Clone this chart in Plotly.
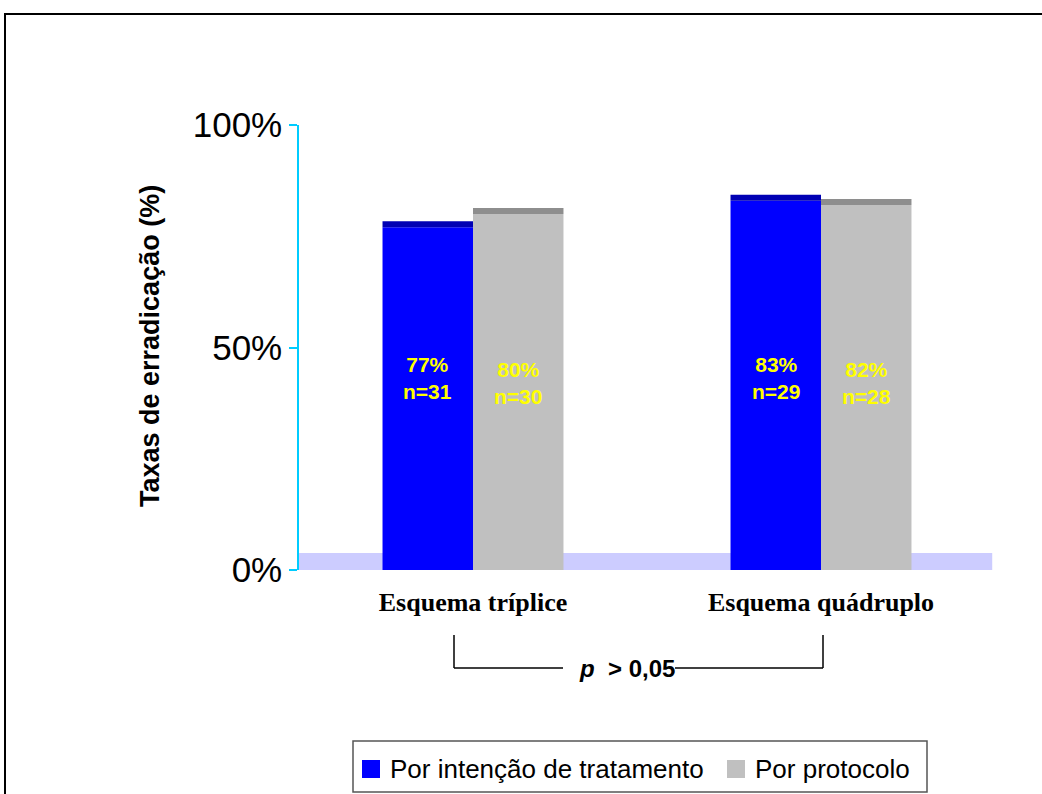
import plotly.graph_objects as go

# Eradication rates by regimen
categories = ["Esquema tríplice", "Esquema quádruplo"]
series_names = ["Por intenção de tratamento", "Por protocolo"]
itt_rates = [77, 83]
pp_rates = [80, 82]
itt_n = [31, 29]
pp_n = [30, 28]
y_ticks = [0, 50, 100]
y_tick_labels = ["0%", "50%", "100%"]
p_label = "<i>p</i>  > 0,05"

front_colors = ["#0000FF", "#C0C0C0"]
top_colors = ["#0000B4", "#8E8E8E"]
BAR_W = 0.26
X_POS = list(range(len(categories)))

W, H = 1042, 794
L, R, T, B = 299, 47, 125, 224
PW, PH = W - L - R, H - T - B


def px_x(px):
    return (px - L) / PW


def px_y(py):
    return (H - B - py) / PH


fig = go.Figure()
all_series = [itt_rates, pp_rates]
all_n = [itt_n, pp_n]
for j, (name, vals) in enumerate(zip(series_names, all_series)):
    fig.add_trace(go.Bar(
        x=X_POS, y=vals, name=name, width=BAR_W,
        offset=-BAR_W + j * BAR_W,
        marker=dict(color=front_colors[j], line=dict(width=0)),
        showlegend=False, hoverinfo="skip",
    ))

shapes = []
# floor of the chart
shapes.append(dict(type="rect", xref="paper", yref="y", x0=0, x1=0.996, y0=0, y1=3.8,
                   fillcolor="#CCCCFF", line=dict(width=0), layer="below"))
# darker top faces on the bars
for j, vals in enumerate(all_series):
    for i, v in enumerate(vals):
        x0 = X_POS[i] - BAR_W + j * BAR_W
        shapes.append(dict(type="rect", xref="x", yref="y", x0=x0, x1=x0 + BAR_W,
                           y0=v, y1=v + 1.35, fillcolor=top_colors[j],
                           line=dict(width=0), layer="above"))

# significance bracket between the regimens
bx0, bx1, bxa, bxb = px_x(454), px_x(823), px_x(563), px_x(675)
by_top, by_bot = px_y(635), px_y(668)
line_k = dict(color="black", width=1.5)
shapes += [
    dict(type="line", xref="paper", yref="paper", x0=bx0, x1=bx0, y0=by_top, y1=by_bot, line=line_k),
    dict(type="line", xref="paper", yref="paper", x0=bx0, x1=bxa, y0=by_bot, y1=by_bot, line=line_k),
    dict(type="line", xref="paper", yref="paper", x0=bxb, x1=bx1, y0=by_bot, y1=by_bot, line=line_k),
    dict(type="line", xref="paper", yref="paper", x0=bx1, x1=bx1, y0=by_top, y1=by_bot, line=line_k),
]

# outer frame
shapes.append(dict(type="rect", xref="paper", yref="paper", x0=px_x(5), x1=px_x(1060),
                   y0=px_y(810), y1=px_y(14), line=dict(color="black", width=2),
                   fillcolor="rgba(0,0,0,0)"))

# legend box and swatches
shapes.append(dict(type="rect", xref="paper", yref="paper", x0=px_x(353), x1=px_x(927),
                   y0=px_y(792), y1=px_y(741), line=dict(color="#555555", width=1.5),
                   fillcolor="white"))
swatch_left = [362, 727]
for j, sx in enumerate(swatch_left):
    shapes.append(dict(type="rect", xref="paper", yref="paper", x0=px_x(sx), x1=px_x(sx + 18),
                       y0=px_y(778), y1=px_y(760), fillcolor=front_colors[j],
                       line=dict(width=0)))

annotations = []
# values inside the bars
label_y = [43.2, 42.0]
for j, (vals, ns) in enumerate(zip(all_series, all_n)):
    for i, (v, n) in enumerate(zip(vals, ns)):
        annotations.append(dict(
            x=X_POS[i] - BAR_W / 2 + j * BAR_W, y=label_y[j], xref="x", yref="y",
            text=f"{v}%<br>n={n}", showarrow=False,
            font=dict(family="Arial, Liberation Sans", size=21, color="#FFFF00", weight="bold"),
            xanchor="center", yanchor="middle", align="center",
        ))

annotations.append(dict(
    x=px_x(150), y=px_y(346), xref="paper", yref="paper",
    text="Taxas de erradicação (%)", textangle=-90, showarrow=False,
    font=dict(family="Arial, Liberation Sans", size=27, color="black", weight="bold"),
    xanchor="center", yanchor="middle",
))
annotations.append(dict(
    x=px_x(627), y=px_y(668), xref="paper", yref="paper", text=p_label, showarrow=False,
    font=dict(family="Arial, Liberation Sans", size=24, color="black", weight="bold"),
    xanchor="center", yanchor="middle",
))
text_left = [388, 753]
for j, tx in enumerate(text_left):
    annotations.append(dict(
        x=px_x(tx), y=px_y(769), xref="paper", yref="paper", text=series_names[j],
        showarrow=False, xanchor="left", yanchor="middle",
        font=dict(family="Arial, Liberation Sans", size=26, color="black"),
    ))

fig.update_layout(
    width=W, height=H,
    margin=dict(l=L, r=R, t=T, b=B, pad=0),
    paper_bgcolor="white", plot_bgcolor="white",
    barmode="overlay",
    shapes=shapes, annotations=annotations,
    showlegend=False,
    xaxis=dict(
        range=[-0.5, 1.5], tickvals=X_POS, ticktext=categories,
        showline=False, showgrid=False, zeroline=False, ticks="",
        ticklabelstandoff=14,
        tickfont=dict(family="Liberation Serif, Times New Roman", size=26, color="black", weight="bold"),
    ),
    yaxis=dict(
        range=[0, 100], tickvals=y_ticks, ticktext=y_tick_labels,
        showline=True, linecolor="#00CCFF", linewidth=1.5,
        ticks="outside", ticklen=8, tickcolor="#00CCFF", tickwidth=1.5,
        showgrid=False, zeroline=False,
        tickfont=dict(family="Arial, Liberation Sans", size=35, color="black"),
    ),
)

fig.write_html("out.html")
